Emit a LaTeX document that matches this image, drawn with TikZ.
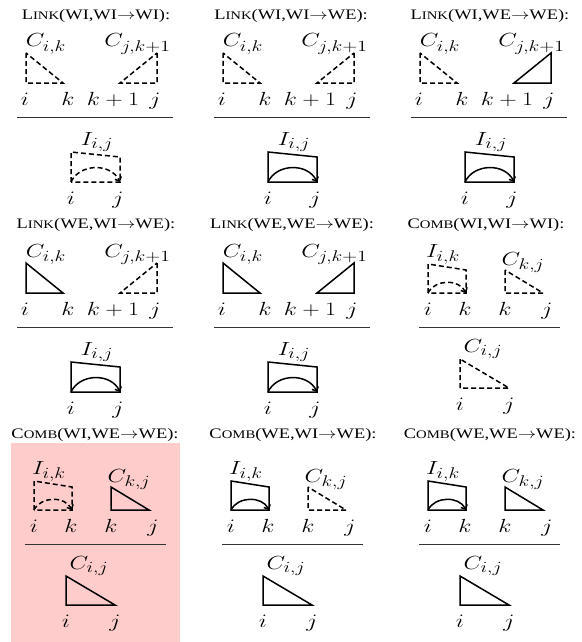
\RequirePackage{fix-cm}
\documentclass[tikz,border=0pt]{standalone}
\usepackage{fontspec}
\newfontfamily\tfont{Liberation Serif}
\usetikzlibrary{arrows.meta}
\DeclareMathSizes{19}{19}{15.5}{12}
\DeclareMathSizes{14.5}{14.5}{10.5}{8}
\newcommand\mathsz{\fontsize{19}{23}\selectfont}
\newcommand\titlesz{\tfont\fontsize{14.5}{17}\selectfont}
\newcommand\smc[1]{{\fontsize{11.6}{14}\selectfont #1}}
\newcommand\hs[1]{\scalebox{1.27}[1]{#1}}
\newcommand\mt[1]{\hs{$#1$}}
\tikzset{
  fig/.style={line width=1.5pt, line join=miter},
  sol/.style={fig},
  dsh/.style={fig, dash pattern=on 5pt off 3pt},
  rulel/.style={line width=0.8pt, black!80},
  lab/.style={anchor=base, inner sep=0pt, font=\mathsz},
  ttl/.style={anchor=base, inner sep=0pt, font=\titlesz},
  arcarrow/.style={-{Straight Barb[length=3.5pt,width=7pt]}},
  pink/.style={fill=red!20, draw=none}
}
% link panel: #1 name, #2 dx, #3 dy, #4 left tri, #5 right tri, #6 box
\newcommand\linkpanel[6]{%
\begin{scope}[shift={(#2,#3)}]
  \node[lab] (#1ca) at (46,47) {\mt{C_{i,k}}};
  \node[lab] (#1cb) at (137.5,47) {\mt{C_{j,k+1}}};
  \draw[#4] (26,53) -- (26,83) -- (63,83) -- cycle;
  \draw[#5] (157,53) -- (157,83) -- (120,83) -- cycle;
  \node[lab] (#1i) at (25,105) {\mt{i}};
  \node[lab] (#1k) at (68,105) {\mt{k}};
  \node[lab] (#1kk) at (113,105) {\mt{k+1}};
  \node[lab] (#1j) at (155,105) {\mt{j}};
  \coordinate (#1ra) at (17,117);
  \coordinate (#1rb) at (173,117);
  \draw[rulel] (#1ra) -- (#1rb);
  \node[lab] (#1I) at (97,145) {\mt{I_{i,j}}};
  \coordinate (#1p1) at (71,182);
  \coordinate (#1p2) at (71,152);
  \coordinate (#1p3) at (120,157);
  \coordinate (#1p4) at (120,182);
  \draw[#6] (#1p1) -- (#1p2) -- (#1p3) -- (#1p4) -- cycle;
  \draw[#6,arcarrow] (#1p1) .. controls (80,163) and (111,163) .. (#1p4);
  \node[lab] (#1bi) at (71,204) {\mt{i}};
  \node[lab] (#1bj) at (118,204) {\mt{j}};
\end{scope}}
% comb panel: #1 name, #2 dx, #3 dy, #4 box, #5 tri, #6 bottom tri
\newcommand\combpanel[6]{%
\begin{scope}[shift={(#2,#3)}]
  \node[lab] (#1I) at (49,47) {\mt{I_{i,k}}};
  \node[lab] (#1C) at (129,55) {\mt{C_{k,j}}};
  \coordinate (#1p1) at (34,83);
  \coordinate (#1p2) at (34,54);
  \coordinate (#1p3) at (72,60);
  \coordinate (#1p4) at (72,83);
  \draw[#4] (#1p1) -- (#1p2) -- (#1p3) -- (#1p4) -- cycle;
  \draw[#4,arcarrow] (#1p1) .. controls (41,69) and (65,69) .. (#1p4);
  \draw[#5] (111,60) -- (111,83) -- (149,83) -- cycle;
  \node[lab] (#1i) at (34,105) {\mt{i}};
  \node[lab] (#1k) at (71,105) {\mt{k}};
  \node[lab] (#1kk) at (111,105) {\mt{k}};
  \node[lab] (#1j) at (153,105) {\mt{j}};
  \coordinate (#1ra) at (25,117);
  \coordinate (#1rb) at (166,117);
  \draw[rulel] (#1ra) -- (#1rb);
  \node[lab] (#1Cij) at (89,142) {\mt{C_{i,j}}};
  \draw[#6] (66,149) -- (66,178) -- (115,178) -- cycle;
  \node[lab] (#1bi) at (66,200) {\mt{i}};
  \node[lab] (#1bj) at (115,200) {\mt{j}};
\end{scope}}
\begin{document}
\begin{tikzpicture}[x=1pt,y=-1pt]
\useasboundingbox (0,0) rectangle (581,642);
\fill[pink] (11,443) rectangle (180,642);
% titles
\node[ttl] (t1) at (96,19.5) {\hs{L\smc{INK}(WI,WI$\rightarrow$WI):}};
\node[ttl] (t2) at (291,19.5) {\hs{L\smc{INK}(WI,WI$\rightarrow$WE):}};
\node[ttl] (t3) at (490,19.5) {\hs{L\smc{INK}(WI,WE$\rightarrow$WE):}};
\node[ttl] (t4) at (96,228.5) {\hs{L\smc{INK}(WE,WI$\rightarrow$WE):}};
\node[ttl] (t5) at (292,228.5) {\hs{L\smc{INK}(WE,WE$\rightarrow$WE):}};
\node[ttl] (t6) at (486,228.5) {\hs{C\smc{OMB}(WI,WI$\rightarrow$WI):}};
\node[ttl] (t7) at (95,438.5) {\hs{C\smc{OMB}(WI,WE$\rightarrow$WE):}};
\node[ttl] (t8) at (293,438.5) {\hs{C\smc{OMB}(WE,WI$\rightarrow$WE):}};
\node[ttl] (t9) at (490,438.5) {\hs{C\smc{OMB}(WE,WE$\rightarrow$WE):}};
% panels
\linkpanel{a}{0}{0}{dsh}{dsh}{dsh}
\linkpanel{b}{197}{0}{dsh}{dsh}{sol}
\linkpanel{c}{394}{0}{dsh}{sol}{sol}
\linkpanel{d}{0}{210}{sol}{dsh}{sol}
\linkpanel{e}{197}{210}{sol}{sol}{sol}
\combpanel{f}{394}{210}{dsh}{dsh}{dsh}
\combpanel{g}{0}{427}{dsh}{sol}{sol}
\combpanel{h}{197}{427}{sol}{dsh}{sol}
\combpanel{m}{394}{427}{sol}{sol}{sol}
\end{tikzpicture}
\end{document}
